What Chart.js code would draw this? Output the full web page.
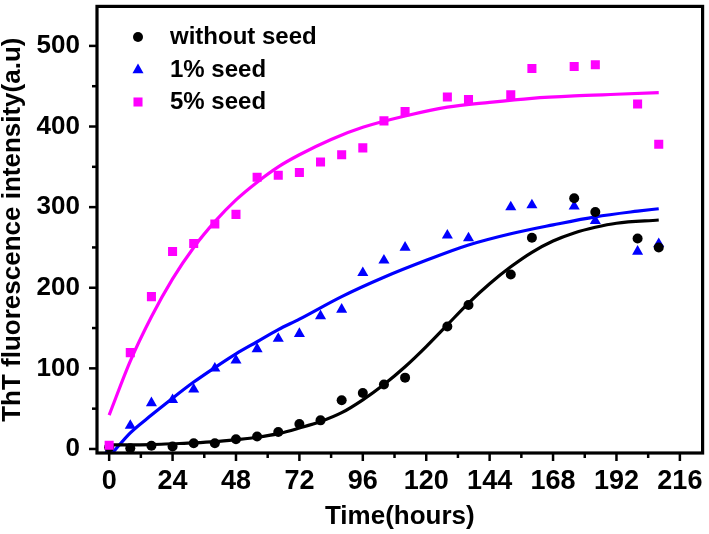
<!DOCTYPE html>
<html>
<head>
<meta charset="utf-8">
<script src="https://cdn.jsdelivr.net/npm/chart.js@4.4.1/dist/chart.umd.min.js"></script>
<style>
html, body { margin: 0; padding: 0; background: #fff; }
#wrap { width: 709px; height: 534px; }
</style>
</head>
<body>
<div id="wrap"><canvas id="c"></canvas></div>
<script>
// measured time points (hours)
const hours = [0, 8, 16, 24, 32, 40, 48, 56, 64, 72, 80, 88, 96, 104, 112, 128, 136, 152, 160, 176, 184, 200, 208];
const withoutSeed = [2, 1, 4, 3, 7, 7, 12, 15.5, 21, 31, 35.5, 60.5, 69.5, 80, 88.5, 152, 178.5, 216.5, 262, 311, 294, 261, 250];
const seed1 = [-2, 29, 57, 61, 74, 100, 110, 124, 137, 143, 165, 173, 218.5, 234, 250, 265, 261.5, 300, 302.5, 301, 283, 245, 254.5];
const seed5 = [4.5, 119.5, 189, 245, 255, 279, 291, 337, 339.5, 343, 356, 365, 373.5, 407, 418.5, 436.5, 433.5, 439.5, 472, 474.5, 476.5, 428, 378];

// fitted curves
const fitHoursBlack = [0, 16, 24, 32, 40, 48, 56, 64, 72, 80, 88, 96, 104, 112, 120, 128, 136, 144, 152, 160, 168, 176, 184, 192, 208];
const fitBlack = [5, 5.5, 6.5, 7.5, 9, 11.5, 14.5, 19, 26, 34, 45, 61, 80, 102, 127, 154, 181, 205, 226, 244, 258, 268, 275, 280, 284];
const fitHoursBlue = [1.5, 8, 16, 24, 32, 40, 48, 56, 64, 72, 88, 104, 120, 136, 152, 168, 184, 200, 208];
const fitBlue = [-4, 20, 42, 63, 83, 101, 118, 133, 148, 161, 189, 213, 234, 253, 267, 278, 288, 295, 298];
const fitHoursMagenta = [0, 8, 16, 24, 32, 40, 48, 56, 64, 72, 84, 96, 112, 128, 144, 160, 176, 192, 208];
const fitMagenta = [42, 109, 164, 211, 250, 282, 309, 331, 350, 365, 384, 399, 413, 424, 430, 435, 438, 440, 442];

const seriesLabels = ["without seed", "1% seed", "5% seed"];
const colors = ["#000000", "#0000ff", "#ff00ff"];

const pts = (xs, ys) => xs.map((x, i) => ({ x: x, y: ys[i] }));

function fitLine(xs, ys, color) {
	return {
		type: "line",
		data: pts(xs, ys),
		borderColor: color,
		borderWidth: 3.2,
		pointRadius: 0,
		cubicInterpolationMode: "monotone",
		fill: false,
		order: 2,
	};
}

// frame + outward ticks (major and minor)
const frameTicks = {
	id: "frameTicks",
	afterDraw(chart) {
		const { ctx, chartArea: { left, right, top, bottom }, scales: { x, y } } = chart;
		ctx.save();
		ctx.strokeStyle = "#000";
		ctx.lineWidth = 2.5;
		x.ticks.forEach((t) => {
			const px = x.getPixelForValue(t.value);
			const len = t.value % 24 === 0 ? 8 : 5;
			ctx.beginPath();
			ctx.moveTo(px, bottom);
			ctx.lineTo(px, bottom + len);
			ctx.stroke();
		});
		y.ticks.forEach((t) => {
			const py = y.getPixelForValue(t.value);
			const len = t.value % 100 === 0 ? 8 : 5;
			ctx.beginPath();
			ctx.moveTo(left, py);
			ctx.lineTo(left - len, py);
			ctx.stroke();
		});
		ctx.lineWidth = 3.2;
		ctx.strokeRect(left, top, right - left, bottom - top);
		ctx.restore();
	},
};

// legend drawn inside the plot, upper left
const insideLegend = {
	id: "insideLegend",
	afterDraw(chart) {
		const ctx = chart.ctx;
		const rowsY = [37, 70, 102];
		ctx.save();
		ctx.font = "bold 24px 'Liberation Sans', Arial, sans-serif";
		ctx.textBaseline = "middle";
		chart.data.datasets.forEach((ds, i) => {
			if (!ds.label) return;
			ctx.fillStyle = ds.backgroundColor;
			Chart.helpers.drawPoint(ctx, {
				pointStyle: ds.pointStyle,
				radius: ds.pointRadius,
				rotation: 0,
				borderWidth: 0,
			}, 138, rowsY[i]);
			ctx.fillStyle = "#000";
			ctx.fillText(ds.label, 170, rowsY[i]);
		});
		ctx.restore();
	},
};

new Chart(document.getElementById("c"), {
	type: "scatter",
	data: {
		datasets: [
			{
				label: seriesLabels[0],
				data: pts(hours, withoutSeed),
				pointStyle: "circle",
				pointRadius: 5,
				backgroundColor: colors[0],
				borderWidth: 0,
				order: 1,
			},
			{
				label: seriesLabels[1],
				data: pts(hours, seed1),
				pointStyle: "triangle",
				pointRadius: 6.4,
				backgroundColor: colors[1],
				borderWidth: 0,
				order: 1,
			},
			{
				label: seriesLabels[2],
				data: pts(hours, seed5),
				pointStyle: "rect",
				pointRadius: 6.4,
				backgroundColor: colors[2],
				borderWidth: 0,
				order: 0,
			},
			fitLine(fitHoursBlack, fitBlack, colors[0]),
			fitLine(fitHoursBlue, fitBlue, colors[1]),
			fitLine(fitHoursMagenta, fitMagenta, colors[2]),
		],
	},
	plugins: [frameTicks, insideLegend],
	options: {
		responsive: true,
		maintainAspectRatio: false,
		animation: false,
		events: [],
		layout: { padding: { top: 3, right: 4, left: 0, bottom: 0 } },
		plugins: {
			legend: { display: false },
			tooltip: { enabled: false },
		},
		scales: {
			x: {
				type: "linear",
				min: -4.6,
				max: 224.6,
				grid: { display: false, drawTicks: false },
				border: { display: false },
				ticks: {
					stepSize: 12,
					includeBounds: false,
					autoSkip: false,
					maxRotation: 0,
					padding: 12,
					color: "#000",
					font: { family: "'Liberation Sans', Arial, sans-serif", size: 27, weight: "bold" },
					callback: (v) => (v % 24 === 0 ? v : ""),
				},
				title: {
					display: true,
					text: "Time(hours)",
					color: "#000",
					padding: { top: 0, bottom: 2 },
					font: { family: "'Liberation Sans', Arial, sans-serif", size: 26, weight: "bold" },
				},
				afterFit: (s) => {
					s.height = 81;
					s.paddingLeft = 0;
					s.paddingRight = 0;
				},
			},
			y: {
				type: "linear",
				min: -5,
				max: 549,
				grid: { display: false, drawTicks: false },
				border: { display: false },
				ticks: {
					stepSize: 50,
					includeBounds: false,
					autoSkip: false,
					padding: 17,
					color: "#000",
					font: { family: "'Liberation Sans', Arial, sans-serif", size: 26, weight: "bold" },
					callback: (v) => (v % 100 === 0 ? v : ""),
				},
				title: {
					display: true,
					text: "ThT fluorescence intensity(a.u)",
					color: "#000",
					padding: { top: 0, bottom: 0 },
					font: { family: "'Liberation Sans', Arial, sans-serif", size: 26, weight: "bold", lineHeight: 1.0 },
				},
				afterFit: (s) => {
					s.width = 97;
					s.paddingTop = 0;
					s.paddingBottom = 0;
				},
			},
		},
	},
});
</script>
</body>
</html>
